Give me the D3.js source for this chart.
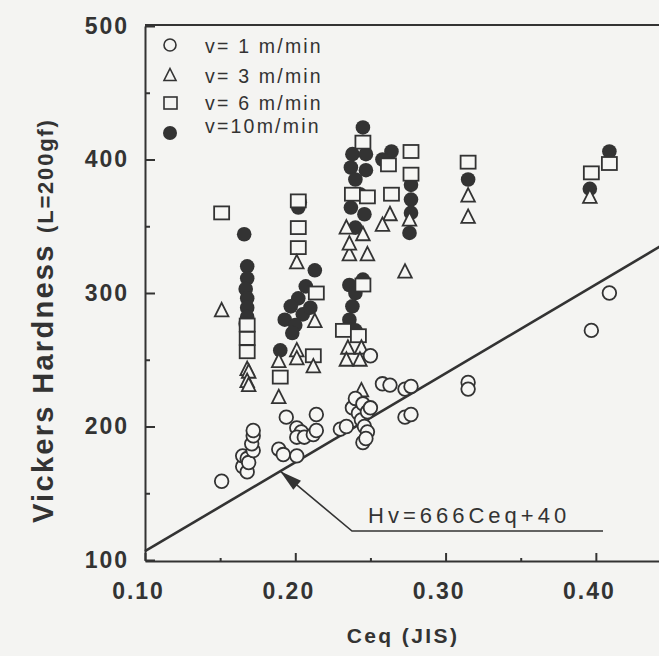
<!DOCTYPE html>
<html>
<head>
<meta charset="utf-8">
<script src="https://cdn.jsdelivr.net/npm/d3@7"></script>
<style>
  body { margin: 0; background: #f4f4f2; }
  svg { display: block; }
  text { font-family: "Liberation Sans", Arial, Helvetica, sans-serif; fill: #333; }
</style>
</head>
<body>
<svg></svg>
<script>
// [Ceq, Hv] pairs
const v1 = [
  [0.151, 159], [0.165, 170], [0.168, 166], [0.165, 178], [0.168, 176],
  [0.169, 173], [0.172, 182], [0.171, 187], [0.172, 193], [0.172, 197],
  [0.189, 183], [0.192, 179], [0.194, 207], [0.201, 199], [0.204, 196],
  [0.201, 192], [0.206, 192], [0.201, 178], [0.212, 194], [0.214, 209],
  [0.214, 197], [0.230, 198], [0.234, 200], [0.238, 214], [0.240, 221],
  [0.242, 210], [0.244, 205], [0.245, 217], [0.246, 200], [0.248, 211],
  [0.248, 196], [0.245, 188], [0.250, 214], [0.247, 191], [0.250, 253],
  [0.258, 232], [0.263, 231], [0.273, 228], [0.277, 230], [0.273, 207],
  [0.277, 209], [0.315, 233], [0.315, 228], [0.397, 272], [0.409, 300]
];
const v3 = [
  [0.151, 287], [0.168, 243], [0.169, 241], [0.168, 234], [0.169, 231],
  [0.189, 249], [0.189, 222], [0.201, 257], [0.201, 251], [0.201, 323],
  [0.213, 279], [0.212, 245], [0.236, 329], [0.248, 329], [0.234, 349],
  [0.236, 337], [0.245, 344], [0.235, 259], [0.244, 259], [0.234, 250],
  [0.243, 250], [0.244, 227], [0.263, 359], [0.258, 351], [0.276, 355],
  [0.273, 316], [0.315, 373], [0.315, 357], [0.396, 372]
];
const v6 = [
  [0.151, 360], [0.168, 276], [0.168, 266], [0.168, 256], [0.190, 237],
  [0.202, 369], [0.202, 349], [0.202, 334], [0.214, 300], [0.212, 253],
  [0.232, 272], [0.245, 413], [0.238, 374], [0.248, 372], [0.245, 306],
  [0.242, 268], [0.262, 396], [0.277, 406], [0.277, 389], [0.264, 374],
  [0.315, 398], [0.397, 390], [0.409, 397]
];
const v10 = [
  [0.166, 344], [0.168, 320], [0.168, 311], [0.167, 303], [0.168, 296],
  [0.168, 289], [0.168, 282], [0.167, 277], [0.190, 257], [0.202, 364],
  [0.203, 368], [0.213, 317], [0.207, 305], [0.202, 296], [0.197, 290],
  [0.205, 284], [0.193, 280], [0.200, 276], [0.198, 270], [0.210, 289],
  [0.245, 424], [0.238, 404], [0.247, 404], [0.237, 394], [0.247, 392],
  [0.240, 385], [0.243, 374], [0.237, 364], [0.246, 359], [0.240, 349],
  [0.236, 306], [0.245, 310], [0.240, 300], [0.238, 290], [0.236, 280],
  [0.240, 272], [0.264, 406], [0.258, 400], [0.277, 381], [0.277, 370],
  [0.277, 360], [0.276, 345], [0.315, 385], [0.396, 378], [0.409, 406]
];

const legendLabels = ["v= 1 m/min", "v= 3 m/min", "v= 6 m/min", "v=10m/min"];
const xTicks = [0.10, 0.20, 0.30, 0.40];
const xMinor = [0.15, 0.25, 0.35];
const yTicks = [100, 200, 300, 400, 500];
const yMinor = [150, 250, 350, 450];
const fitSlope = 666;
const fitIntercept = 40;
const fitLabel = "Hv=666Ceq+40";
const fitArrowCeq = 0.19;

const width = 659;
const height = 656;
const ink = "#333";

const svg = d3.select("svg").attr("width", width).attr("height", height);

const x = d3.scaleLinear().domain([0.10, 0.45]).range([145, 671]);
const y = d3.scaleLinear().domain([100, 500]).range([560, 26]);

// top frame line
svg.append("line")
  .attr("x1", x(0.10)).attr("x2", width)
  .attr("y1", y(500) - 1).attr("y2", y(500) - 1)
  .attr("stroke", ink).attr("stroke-width", 2);

const xAxis = svg.append("g")
  .attr("transform", `translate(0, ${y(100) + 1})`)
  .call(d3.axisBottom(x).tickValues(xTicks).tickSizeInner(-8).tickSizeOuter(0)
    .tickPadding(22).tickFormat(d3.format(".2f")));
xAxis.selectAll("text").attr("dx", -7);

const xAxisMinor = svg.append("g")
  .attr("transform", `translate(0, ${y(100) + 1})`)
  .call(d3.axisBottom(x).tickValues(xMinor).tickSizeInner(-3).tickSizeOuter(0).tickFormat(""));
xAxisMinor.select(".domain").remove();

const yAxis = svg.append("g")
  .attr("transform", `translate(${x(0.10)}, 0)`)
  .call(d3.axisLeft(y).tickValues(yTicks).tickSizeInner(-10).tickSizeOuter(0).tickPadding(16));

const yAxisMinor = svg.append("g")
  .attr("transform", `translate(${x(0.10)}, 0)`)
  .call(d3.axisLeft(y).tickValues(yMinor).tickSizeInner(-5).tickSizeOuter(0).tickFormat(""));
yAxisMinor.select(".domain").remove();

svg.selectAll(".domain").attr("stroke", ink).attr("stroke-width", 2);
svg.selectAll(".tick line").attr("stroke", ink).attr("stroke-width", 2);
svg.selectAll(".tick text")
  .attr("fill", ink)
  .style("font-size", "23px")
  .style("font-weight", "bold")
  .style("letter-spacing", "2px")
  .style("font-family", '"Liberation Sans", Arial, sans-serif');
yAxis.selectAll("text").attr("dy", "0.32em");

// axis titles
svg.append("text")
  .attr("x", 403).attr("y", 643)
  .attr("text-anchor", "middle")
  .style("font-size", "21px").style("font-weight", "bold").style("letter-spacing", "2.4px")
  .text("Ceq (JIS)");

const yTitle = svg.append("text")
  .attr("transform", "translate(53, 523) rotate(-90)")
  .style("font-weight", "bold");
yTitle.append("tspan").style("font-size", "29px").style("letter-spacing", "2.3px")
  .text("Vickers Hardness ");
yTitle.append("tspan").style("font-size", "22px").style("letter-spacing", "1.8px")
  .text("(L=200gf)");

// regression line
const fitLine = d3.line().x((d) => x(d)).y((d) => y(fitSlope * d + fitIntercept));
svg.append("path")
  .attr("d", fitLine([0.10, 0.45]))
  .attr("fill", "none").attr("stroke", ink).attr("stroke-width", 2.6);

// annotation with arrow
const tipX = x(fitArrowCeq);
const tipY = y(fitSlope * fitArrowCeq + fitIntercept);
const elbow = [352, 531];
const ang = Math.atan2(elbow[1] - tipY, elbow[0] - tipX);
const headLen = 22;
const headHalf = 6;
const bx = tipX + headLen * Math.cos(ang);
const by = tipY + headLen * Math.sin(ang);
svg.append("path")
  .attr("d", `M${tipX},${tipY}L${elbow[0]},${elbow[1]}L603,${elbow[1]}`)
  .attr("fill", "none").attr("stroke", ink).attr("stroke-width", 1.6);
svg.append("path")
  .attr("d", `M${tipX},${tipY}` +
    `L${bx - headHalf * Math.sin(ang)},${by + headHalf * Math.cos(ang)}` +
    `L${bx + headHalf * Math.sin(ang)},${by - headHalf * Math.cos(ang)}Z`)
  .attr("fill", ink);
svg.append("text")
  .attr("x", 368).attr("y", 523)
  .style("font-size", "22px").style("letter-spacing", "4px")
  .text(fitLabel);

// markers
const triPath = "M0,-7.5L6.8,6L-6.8,6Z";
const drawFilled = (g, pts) => {
  g.selectAll(null).data(pts).enter().append("circle")
    .attr("cx", (d) => x(d[0])).attr("cy", (d) => y(d[1]))
    .attr("r", 7.3).attr("fill", ink);
};
const drawSquares = (g, pts) => {
  g.selectAll(null).data(pts).enter().append("rect")
    .attr("x", (d) => x(d[0]) - 7.5).attr("y", (d) => y(d[1]) - 6.5)
    .attr("width", 15).attr("height", 13)
    .attr("fill", "#f6f6f4").attr("stroke", ink).attr("stroke-width", 1.8);
};
const drawTriangles = (g, pts) => {
  g.selectAll(null).data(pts).enter().append("path")
    .attr("d", triPath)
    .attr("transform", (d) => `translate(${x(d[0])}, ${y(d[1])})`)
    .attr("fill", "#f6f6f4").attr("stroke", ink).attr("stroke-width", 1.8)
    .attr("stroke-linejoin", "miter");
};
const drawCircles = (g, pts) => {
  g.selectAll(null).data(pts).enter().append("circle")
    .attr("cx", (d) => x(d[0])).attr("cy", (d) => y(d[1]))
    .attr("r", 6.8).attr("fill", "#f6f6f4").attr("stroke", ink).attr("stroke-width", 1.8);
};

const marks = svg.append("g");
drawFilled(marks, v10);
drawSquares(marks, v6);
drawTriangles(marks, v3);
drawCircles(marks, v1);

// legend
const legendSym = [45, 75, 103, 133];
const legendBase = [53, 83, 110, 133];
const legend = svg.append("g");
legend.append("circle").attr("cx", 170).attr("cy", legendSym[0]).attr("r", 6)
  .attr("fill", "none").attr("stroke", ink).attr("stroke-width", 1.6);
legend.append("path").attr("d", "M0,-6.5L6,5.5L-6,5.5Z")
  .attr("transform", `translate(170, ${legendSym[1]})`)
  .attr("fill", "none").attr("stroke", ink).attr("stroke-width", 1.6);
legend.append("rect").attr("x", 164).attr("y", legendSym[2] - 6).attr("width", 13).attr("height", 12)
  .attr("fill", "none").attr("stroke", ink).attr("stroke-width", 1.6);
legend.append("circle").attr("cx", 170).attr("cy", legendSym[3]).attr("r", 7)
  .attr("fill", ink);
legend.selectAll("text").data(legendLabels).enter().append("text")
  .attr("x", 205).attr("y", (d, i) => legendBase[i])
  .style("font-size", "19.5px").style("letter-spacing", "2.2px")
  .text((d) => d);
</script>
</body>
</html>
